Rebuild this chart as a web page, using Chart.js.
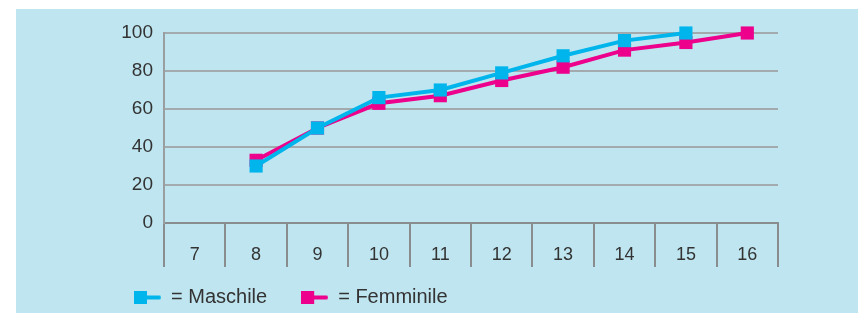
<!DOCTYPE html>
<html>
<head>
<meta charset="utf-8">
<script src="https://cdn.jsdelivr.net/npm/chart.js@4/dist/chart.umd.min.js"></script>
<style>
  html, body { margin: 0; padding: 0; background: #ffffff; }
  #wrap { width: 858px; height: 313px; position: relative; }
</style>
</head>
<body>
<div id="wrap"><canvas id="c" width="858" height="313"></canvas></div>
<script>
const categories = ['7', '8', '9', '10', '11', '12', '13', '14', '15', '16'];
const maschile   = [null, 30, 50, 66, 70, 79, 88, 96, 100, null];
const femminile  = [null, 33, 50, 63, 67, 75, 82, 91, 95, 100];
const seriesLabels = ['= Maschile', '= Femminile'];
const yTicks = [0, 20, 40, 60, 80, 100];

const BLUE = '#00b5ec';
const MAGENTA = '#ec008c';
const FONT = 'Liberation Sans, Arial, sans-serif';

function legendMarker(color) {
  const cv = document.createElement('canvas');
  cv.width = 27; cv.height = 13;
  const g = cv.getContext('2d');
  g.fillStyle = color;
  g.fillRect(0, 0, 13, 13);
  g.fillRect(12, 5, 13, 4);
  g.beginPath();
  g.arc(25, 7, 2, -Math.PI / 2, Math.PI / 2);
  g.fill();
  return cv;
}
const markers = [legendMarker(BLUE), legendMarker(MAGENTA)];

const bgPlugin = {
  id: 'bg',
  beforeDraw(chart) {
    const ctx = chart.ctx;
    ctx.save();
    ctx.fillStyle = '#bfe6f0';
    ctx.fillRect(16, 9, chart.width - 16, chart.height - 9);
    ctx.restore();
  }
};

new Chart(document.getElementById('c'), {
  type: 'line',
  data: {
    labels: categories,
    datasets: [
      {
        label: seriesLabels[0],
        data: maschile,
        borderColor: BLUE,
        backgroundColor: BLUE,
        borderWidth: 4,
        pointStyle: 'rect',
        pointRadius: 9.3,
        pointBorderWidth: 0,
        pointBackgroundColor: BLUE,
        tension: 0,
        spanGaps: false,
        clip: false
      },
      {
        label: seriesLabels[1],
        data: femminile,
        borderColor: MAGENTA,
        backgroundColor: MAGENTA,
        borderWidth: 4,
        pointStyle: 'rect',
        pointRadius: 9.3,
        pointBorderWidth: 0,
        pointBackgroundColor: MAGENTA,
        tension: 0,
        spanGaps: false,
        clip: false
      }
    ]
  },
  options: {
    responsive: false,
    animation: false,
    devicePixelRatio: 1,
    layout: { padding: { left: 100, right: 80, top: 33, bottom: -4 } },
    plugins: {
      tooltip: { enabled: false },
      legend: {
        display: true,
        position: 'bottom',
        align: 'start',
        labels: {
          usePointStyle: true,
          pointStyleWidth: 27,
          padding: 34,
          color: '#333333',
          font: { family: FONT, size: 20 },
          generateLabels(chart) {
            return chart.data.datasets.map((ds, i) => ({
              text: ds.label,
              pointStyle: markers[i],
              fillStyle: ds.borderColor,
              strokeStyle: ds.borderColor,
              lineWidth: 0,
              hidden: false,
              datasetIndex: i,
              fontColor: '#333333'
            }));
          }
        }
      }
    },
    scales: {
      x: {
        type: 'category',
        offset: true,
        grid: {
          offset: true,
          drawOnChartArea: false,
          drawTicks: true,
          tickLength: 44,
          color: '#8a8d8f',
          lineWidth: 2
        },
        border: { display: true, color: '#8a8d8f', width: 2 },
        ticks: {
          color: '#333333',
          font: { family: FONT, size: 18 },
          mirror: true,
          padding: -43,
          maxRotation: 0,
          autoSkip: false
        },
        afterFit(scale) { scale.height = 30; }
      },
      y: {
        min: 0,
        max: 100,
        afterBuildTicks(scale) { scale.ticks = yTicks.map(v => ({ value: v })); },
        grid: {
          drawTicks: false,
          color: '#a3aaad',
          lineWidth: 2
        },
        border: { display: true, color: '#999ea1', width: 2 },
        ticks: {
          color: '#333333',
          font: { family: FONT, size: 19 },
          padding: 11
        },
        afterFit(scale) { scale.width = 64; }
      }
    }
  },
  plugins: [bgPlugin]
});
</script>
</body>
</html>
